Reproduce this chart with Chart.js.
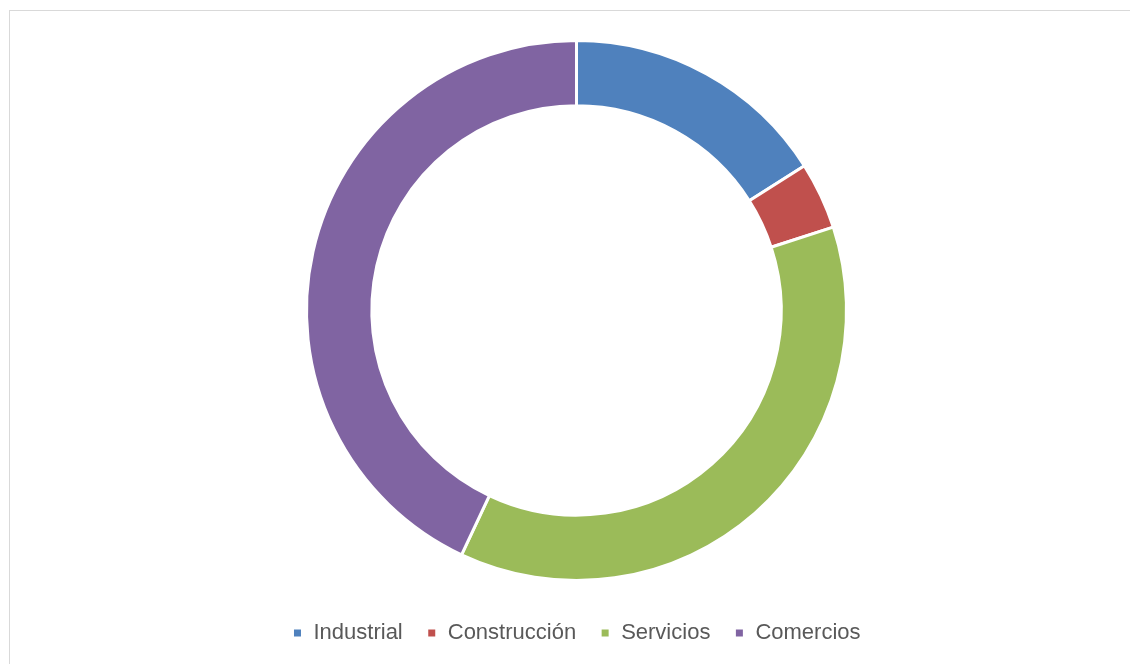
<!DOCTYPE html>
<html>
<head>
<meta charset="utf-8">
<script src="https://cdn.jsdelivr.net/npm/chart.js@4/dist/chart.umd.min.js"></script>
<style>
    html, body { margin: 0; padding: 0; background: #ffffff; overflow: hidden; }
    #frame {
        position: absolute; left: 9px; top: 10px;
        width: 1140px; height: 700px;
        border: 1px solid #d9d9d9;
        background: #ffffff;
    }
    #sectorChart { position: absolute; left: 0; top: 0; }
</style>
</head>
<body>
<div id="frame">
    <canvas id="sectorChart" width="1120" height="700"></canvas>
</div>
<script>
// Data (percent share)
const sectors = ['Industrial', 'Construcción', 'Servicios', 'Comercios'];
const shares = [16, 4, 37, 43];
const sectorColors = ['#4f81bd', '#c0504d', '#9bbb59', '#8064a2'];

const ctx = document.getElementById('sectorChart');

new Chart(ctx, {
    type: 'doughnut',
    data: {
        labels: sectors,
        datasets: [{
            data: shares,
            backgroundColor: sectorColors,
            borderColor: '#ffffff',
            borderWidth: 3,
            radius: 270,
            cutout: '75.8%'
        }]
    },
    options: {
        responsive: false,
        animation: false,
        layout: { padding: { top: 12, bottom: 57, left: 13, right: 0 } },
        plugins: {
            tooltip: { enabled: false },
            legend: {
                position: 'bottom',
                labels: {
                    color: '#595959',
                    font: { family: '"Liberation Sans", Arial, sans-serif', size: 22 },
                    boxWidth: 10,
                    boxHeight: 10,
                    padding: 24
                }
            }
        }
    }
});
</script>
</body>
</html>
